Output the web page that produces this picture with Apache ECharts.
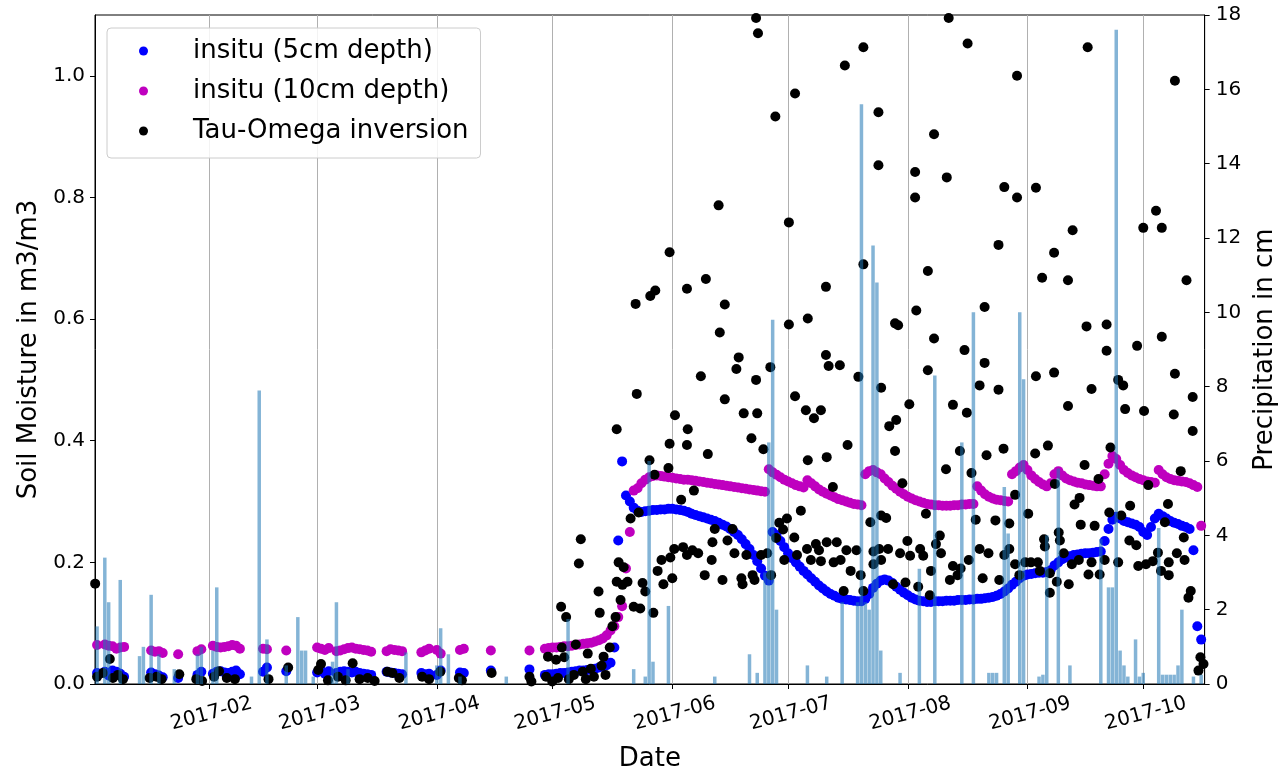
<!DOCTYPE html>
<html>
<head>
<meta charset="utf-8">
<title>Soil moisture and precipitation 2017</title>
<script src="https://cdn.jsdelivr.net/npm/echarts@6/dist/echarts.min.js"></script>
<style>
  html, body { margin: 0; padding: 0; background: #fff; }
  #chart { width: 1286px; height: 777px; }
</style>
</head>
<body>
<div id="chart"></div>
<script>
// day offsets are counted from 2017-01-01 00:00 UTC

// insitu probes, sparse days before the continuous record starts
var earlyDays = [2, 4, 5, 6, 7, 8, 9, 16, 17, 18, 19, 23, 28, 29, 32, 33, 34, 35, 36, 37, 38, 39,
  45, 46, 51, 59, 60, 61, 62, 64, 65, 66, 67, 68, 69, 70, 71, 72, 73, 77, 78, 79, 80, 81,
  86, 87, 88, 90, 91, 96, 97, 104, 114];
var earlySM5 = [0.018, 0.020, 0.014, 0.022, 0.020, 0.017, 0.012, 0.019, 0.016, 0.014, 0.011, 0.010,
  0.015, 0.020, 0.017, 0.020, 0.021, 0.019, 0.018, 0.020, 0.022, 0.016, 0.020, 0.027, 0.021,
  0.019, 0.022, 0.017, 0.021, 0.018, 0.020, 0.021, 0.020, 0.019, 0.020, 0.018, 0.017, 0.016, 0.015,
  0.020, 0.019, 0.018, 0.017, 0.016, 0.018, 0.016, 0.017, 0.015, 0.022, 0.019, 0.018, 0.022, 0.024];
var earlySM10 = [0.064, 0.065, 0.063, 0.062, 0.058, 0.060, 0.061, 0.055, 0.053, 0.054, 0.051, 0.049,
  0.054, 0.057, 0.063, 0.061, 0.060, 0.061, 0.062, 0.064, 0.063, 0.058, 0.058, 0.057, 0.055,
  0.060, 0.058, 0.056, 0.059, 0.054, 0.055, 0.057, 0.059, 0.060, 0.058, 0.057, 0.056, 0.055, 0.053,
  0.054, 0.057, 0.056, 0.055, 0.054, 0.052, 0.055, 0.058, 0.056, 0.050, 0.056, 0.058, 0.055, 0.055];

// continuous daily record, first value is day 118 (2017-04-29)
var dailyStart = 118;
var dailySM5 = [
  0.015, 0.016, 0.016, 0.017, 0.018, 0.018, 0.019, 0.020, 0.021, 0.022, 0.022, 0.023, 0.024, 0.025,
  0.027, 0.029, 0.031, 0.035, 0.060, 0.236, 0.366, 0.310, 0.300, 0.290, 0.285, 0.283, 0.284, 0.285,
  0.286, 0.286, 0.287, 0.287, 0.288, 0.288, 0.287, 0.286, 0.285, 0.283, 0.280, 0.278, 0.276, 0.274,
  0.272, 0.270, 0.268, 0.265, 0.262, 0.259, 0.255, 0.250, 0.245, 0.238, 0.230, 0.222, 0.212, 0.202,
  0.190, 0.178, 0.170, 0.250, 0.245, 0.235, 0.225, 0.215, 0.207, 0.200, 0.193, 0.186, 0.180, 0.174,
  0.168, 0.162, 0.157, 0.152, 0.148, 0.145, 0.142, 0.140, 0.139, 0.138, 0.137, 0.136, 0.136, 0.140,
  0.148, 0.158, 0.165, 0.170, 0.172, 0.170, 0.166, 0.160, 0.155, 0.150, 0.146, 0.142, 0.139, 0.137,
  0.136, 0.135, 0.135, 0.136, 0.136, 0.136, 0.137, 0.137, 0.137, 0.138, 0.138, 0.138, 0.139, 0.139,
  0.140, 0.140, 0.141, 0.142, 0.143, 0.145, 0.148, 0.152, 0.157, 0.163, 0.168, 0.174, 0.178, 0.180,
  0.181, 0.182, 0.183, 0.183, 0.184, 0.187, 0.195, 0.200, 0.205, 0.208, 0.210, 0.212, 0.213, 0.214,
  0.215, 0.215, 0.216, 0.217, 0.218, 0.235, 0.255, 0.270, 0.275, 0.272, 0.268, 0.266, 0.264, 0.262,
  0.258, 0.250, 0.245, 0.258, 0.272, 0.280, 0.276, 0.272, 0.268, 0.265, 0.263, 0.260, 0.258, 0.255,
  0.220, 0.095, 0.073, null];
var dailySM10 = [
  0.058, 0.059, 0.060, 0.060, 0.061, 0.062, 0.062, 0.063, 0.064, 0.065, 0.066, 0.067, 0.068, 0.070,
  0.072, 0.075, 0.080, 0.088, 0.095, 0.110, 0.128, 0.190, 0.250, 0.318, 0.322, 0.330, 0.336, 0.340,
  0.342, 0.343, 0.342, 0.341, 0.340, 0.339, 0.338, 0.337, 0.336, 0.336, 0.335, 0.334, 0.333, 0.332,
  0.331, 0.330, 0.329, 0.328, 0.327, 0.326, 0.325, 0.324, 0.323, 0.322, 0.321, 0.320, 0.319, 0.318,
  0.317, 0.316, 0.353, 0.348, 0.344, 0.340, 0.336, 0.333, 0.330, 0.327, 0.325, 0.323, 0.335, 0.330,
  0.325, 0.320, 0.316, 0.313, 0.310, 0.307, 0.304, 0.302, 0.300, 0.298, 0.296, 0.295, 0.294, 0.345,
  0.350, 0.352, 0.348, 0.345, 0.338, 0.332, 0.326, 0.321, 0.316, 0.312, 0.308, 0.305, 0.302, 0.300,
  0.298, 0.296, 0.295, 0.294, 0.294, 0.293, 0.293, 0.293, 0.294, 0.294, 0.295, 0.295, 0.296, 0.296,
  0.325, 0.318, 0.312, 0.308, 0.305, 0.303, 0.302, 0.301, 0.300, 0.345, 0.350, 0.356, 0.360, 0.352,
  0.343, 0.337, 0.332, 0.328, 0.325, 0.330, 0.345, 0.350, 0.343, 0.338, 0.335, 0.333, 0.331, 0.330,
  0.328, 0.327, 0.326, 0.325, 0.325, 0.345, 0.362, 0.375, 0.370, 0.360, 0.352, 0.347, 0.343, 0.340,
  0.337, 0.335, 0.333, 0.332, 0.331, 0.352, 0.345, 0.340, 0.337, 0.335, 0.334, 0.333, 0.332, 0.330,
  0.327, 0.324, 0.260, 0.230];

// Tau-Omega retrievals: [day offset, soil moisture]
var tauPoints = [
  [1.5, 0.165], [2.0, 0.012], [3.5, 0.018], [5.3, 0.041], [6.1, 0.010], [7.4, 0.015], [8.7, 0.008],
  [15.6, 0.010], [17.4, 0.012], [18.7, 0.008], [23.3, 0.016], [27.7, 0.008], [29.2, 0.005],
  [32.3, 0.012], [33.6, 0.021], [35.6, 0.010], [37.7, 0.008], [46.4, 0.008], [51.5, 0.027],
  [59.3, 0.023], [60.0, 0.033], [61.8, 0.006], [64.4, 0.012], [66.4, 0.006], [68.2, 0.034],
  [70.0, 0.008], [72.1, 0.010], [73.9, 0.005], [77.2, 0.020], [78.5, 0.018], [80.3, 0.010],
  [86.2, 0.012], [88.0, 0.008], [90.9, 0.020], [95.7, 0.010], [96.5, 0.006], [104.2, 0.018],
  [114.0, 0.012], [114.5, 0.004],
  [118.3, 0.012], [118.8, 0.045], [119.9, 0.004], [120.9, 0.040], [121.4, 0.010], [122.2, 0.127],
  [122.4, 0.060], [123.0, 0.044], [123.5, 0.110], [124.2, 0.008], [125.5, 0.015], [126.0, 0.065],
  [126.8, 0.198], [127.3, 0.238], [127.8, 0.020], [128.6, 0.008], [129.1, 0.050], [129.9, 0.025],
  [130.7, 0.012], [131.9, 0.152], [132.2, 0.117], [132.7, 0.030], [133.2, 0.045], [133.7, 0.015],
  [134.8, 0.060], [135.5, 0.095], [136.3, 0.110], [136.6, 0.168], [136.6, 0.419], [137.1, 0.200],
  [137.6, 0.138], [138.1, 0.163], [138.4, 0.192], [139.4, 0.168], [140.2, 0.272], [141.0, 0.127],
  [141.5, 0.625], [141.8, 0.477], [142.3, 0.282], [142.7, 0.124], [143.3, 0.166], [144.0, 0.152],
  [145.1, 0.368], [145.3, 0.638], [146.1, 0.117], [146.4, 0.344], [146.6, 0.647], [147.2, 0.186],
  [148.2, 0.204], [148.7, 0.164], [150.0, 0.355], [150.3, 0.710], [150.3, 0.395], [150.5, 0.208],
  [151.0, 0.174], [151.5, 0.222], [151.7, 0.442], [153.3, 0.303], [153.8, 0.225], [154.8, 0.650],
  [154.8, 0.393], [154.8, 0.212], [155.0, 0.419], [156.2, 0.220], [156.6, 0.318], [157.7, 0.215],
  [158.4, 0.506], [159.4, 0.179], [159.7, 0.666], [160.2, 0.378], [161.2, 0.204], [161.4, 0.233],
  [162.0, 0.255], [163.0, 0.787], [163.3, 0.578], [164.0, 0.171], [164.6, 0.624], [164.6, 0.468],
  [165.3, 0.236], [166.6, 0.255], [167.1, 0.215], [167.6, 0.518], [168.2, 0.537], [168.9, 0.174],
  [169.2, 0.164], [169.5, 0.445], [170.2, 0.212], [171.5, 0.404], [171.8, 0.179], [172.3, 0.171],
  [172.7, 1.095], [172.7, 0.500], [173.0, 0.445], [173.2, 1.070], [174.0, 0.212], [174.6, 0.386],
  [175.6, 0.215], [176.4, 0.521], [176.6, 0.179], [177.7, 0.933], [177.9, 0.240], [178.7, 0.265],
  [179.7, 0.254], [180.0, 0.204], [180.7, 0.272], [181.2, 0.759], [181.2, 0.591], [182.6, 0.241],
  [182.8, 0.971], [182.8, 0.473], [183.3, 0.212], [184.3, 0.285], [185.6, 0.450], [185.9, 0.222],
  [186.1, 0.601], [186.1, 0.368], [186.9, 0.204], [187.7, 0.437], [188.2, 0.230], [189.0, 0.220],
  [189.5, 0.450], [189.5, 0.202], [190.8, 0.653], [190.8, 0.541], [191.0, 0.373], [191.0, 0.233],
  [191.5, 0.523], [192.6, 0.324], [192.8, 0.200], [193.6, 0.233], [194.4, 0.524], [194.6, 0.204],
  [195.4, 0.153], [195.7, 1.017], [196.1, 0.220], [196.4, 0.393], [197.2, 0.186], [198.7, 0.220],
  [199.2, 0.505], [199.8, 0.179], [200.5, 1.047], [200.5, 0.690], [200.5, 0.153], [202.3, 0.266],
  [203.1, 0.218], [203.1, 0.197], [204.4, 0.940], [204.4, 0.853], [204.6, 0.222], [205.1, 0.487],
  [205.1, 0.277], [205.1, 0.204], [206.4, 0.273], [206.9, 0.222], [207.2, 0.424], [208.2, 0.164],
  [208.7, 0.593], [208.7, 0.383], [209.0, 0.434], [209.5, 0.590], [210.0, 0.215], [210.6, 0.330],
  [211.4, 0.167], [211.9, 0.235], [212.4, 0.460], [212.6, 0.211], [213.9, 0.842], [213.9, 0.800],
  [214.2, 0.614], [214.7, 0.160], [215.2, 0.222], [216.0, 0.211], [216.7, 0.280], [217.2, 0.679],
  [217.2, 0.516], [217.7, 0.146], [218.0, 0.186], [218.8, 0.904], [218.8, 0.568], [219.3, 0.230],
  [220.3, 0.244], [220.6, 0.215], [221.9, 0.353], [222.1, 0.833], [222.6, 1.095], [222.9, 0.171],
  [223.7, 0.459], [223.7, 0.194], [224.9, 0.179], [225.5, 0.383], [225.7, 0.190], [226.7, 0.549],
  [227.3, 0.446], [227.5, 1.053], [227.8, 0.204], [228.5, 0.347], [229.6, 0.270], [230.6, 0.491],
  [230.6, 0.222], [231.4, 0.174], [231.9, 0.620], [231.9, 0.528], [232.4, 0.376], [232.9, 0.215],
  [234.7, 0.269], [235.5, 0.722], [235.5, 0.484], [235.7, 0.171], [236.8, 0.387], [237.0, 0.817],
  [237.0, 0.212], [238.3, 0.264], [238.3, 0.222], [239.8, 0.311], [239.8, 0.197], [240.3, 1.000],
  [240.3, 0.800], [240.9, 0.179], [242.4, 0.200], [243.2, 0.280], [243.9, 0.200], [245.0, 0.379],
  [245.2, 0.816], [245.2, 0.506], [245.7, 0.200], [246.2, 0.186], [246.8, 0.668], [247.3, 0.238],
  [247.5, 0.226], [248.3, 0.392], [248.8, 0.182], [248.8, 0.150], [249.9, 0.709], [249.9, 0.512],
  [250.1, 0.329], [250.6, 0.168], [251.1, 0.249], [251.4, 0.236], [252.4, 0.215], [253.5, 0.664],
  [253.5, 0.457], [253.7, 0.164], [254.5, 0.197], [254.7, 0.746], [255.2, 0.295], [256.3, 0.204],
  [256.5, 0.306], [256.8, 0.262], [257.8, 0.360], [258.3, 0.588], [258.6, 1.047], [258.8, 0.180],
  [259.6, 0.485], [259.6, 0.200], [260.4, 0.260], [261.4, 0.337], [261.7, 0.180], [263.0, 0.204],
  [263.5, 0.591], [263.5, 0.548], [264.2, 0.282], [264.5, 0.389], [266.5, 0.500], [266.5, 0.200],
  [267.3, 0.277], [267.8, 0.491], [268.3, 0.452], [269.4, 0.236], [269.6, 0.293], [271.2, 0.228],
  [271.4, 0.556], [271.7, 0.194], [273.0, 0.750], [273.2, 0.449], [273.7, 0.197], [274.3, 0.327],
  [275.5, 0.202], [276.3, 0.778], [276.8, 0.216], [277.6, 0.186], [277.8, 0.750], [277.8, 0.571],
  [278.6, 0.266], [279.4, 0.296], [279.6, 0.200], [279.6, 0.179], [280.9, 0.443], [281.2, 0.992],
  [281.2, 0.510], [281.7, 0.215], [282.7, 0.350], [283.5, 0.241], [283.7, 0.204], [284.2, 0.664],
  [284.7, 0.142], [285.3, 0.153], [285.8, 0.472], [285.8, 0.416], [287.3, 0.022], [287.8, 0.044],
  [288.6, 0.033]
];

// daily precipitation in cm: [day offset, cm]
var rainDays = [2, 4, 5, 8, 13, 14, 16, 18, 22, 28, 29, 32, 33, 42, 44, 46, 51, 54, 55, 56, 58, 63, 64,
  67, 82, 90, 91, 93, 96, 108, 124, 141, 144, 145, 146, 150, 162, 171, 173, 175, 176, 177, 178,
  186, 191, 195, 199, 200, 201, 202, 203, 204, 205, 210, 215, 219, 226, 229, 233, 234, 235, 237,
  238, 241, 242, 246, 247, 248, 251, 254, 262, 264, 265, 266, 267, 268, 269, 271, 272, 273, 277,
  278, 279, 280, 281, 282, 283, 286, 288];
var rainCm = [1.55, 3.4, 2.2, 2.8, 0.75, 1.0, 2.4, 0.8, 0.4, 0.8, 1.0, 0.9, 2.6, 0.2, 7.9, 1.2, 0.5, 1.8,
  0.9, 0.9, 0.2, 0.6, 2.2, 0.4, 0.85, 0.5, 1.5, 0.8, 0.2, 0.2, 1.75, 0.4, 0.2, 6.0, 0.6, 2.1, 0.2,
  0.8, 0.3, 3.0, 6.5, 9.8, 2.0, 0.5, 0.2, 2.2, 2.2, 15.6, 2.2, 2.0, 11.8, 10.8, 0.9, 0.3, 3.1, 8.3,
  6.5, 10.0, 0.3, 0.3, 0.3, 5.3, 4.05, 10.0, 8.2, 0.2, 0.25, 4.0, 5.8, 0.5, 3.9, 2.6, 2.6, 17.6,
  0.9, 0.5, 0.2, 1.2, 0.2, 0.3, 4.2, 0.25, 0.25, 0.25, 0.25, 0.5, 2.0, 0.2, 0.25];

var smTicks = [0, 0.2, 0.4, 0.6, 0.8, 1.0];

(function () {
    var DAY = 86400000;
    var t0 = Date.UTC(2017, 0, 1);
    function dayToTime(d) { return t0 + d * DAY; }
    var tMin = dayToTime(1.46), tMax = dayToTime(288.9);

    // build [time, value] pairs for the insitu series
    function insitu(early, daily) {
        var out = [];
        for (var i = 0; i < earlyDays.length; i++) {
            out.push([dayToTime(earlyDays[i]), early[i]]);
        }
        for (var j = 0; j < daily.length; j++) {
            if (daily[j] !== null) out.push([dayToTime(dailyStart + j), daily[j]]);
        }
        return out;
    }

    var sm5 = insitu(earlySM5, dailySM5);
    var sm10 = insitu(earlySM10, dailySM10);
    var tau = tauPoints.map(function (p) { return [dayToTime(p[0]), p[1]]; });
    var rain = rainDays.map(function (d, i) { return [dayToTime(d), rainCm[i]]; });

    function pad(n) { return n < 10 ? '0' + n : '' + n; }

    var font = 'DejaVu Sans';
    var black = '#000000';

    var myChart = echarts.init(document.getElementById('chart'));
    var option = {
        animation: false,
        useUTC: true,
        backgroundColor: '#ffffff',
        textStyle: { fontFamily: font, color: black },
        grid: {
            left: 95, right: 72, top: 15, bottom: 87,
            show: true, borderColor: black, borderWidth: 1, backgroundColor: 'transparent'
        },
        legend: {
            left: 107, top: 28,
            orient: 'vertical',
            selectedMode: false,
            icon: 'circle',
            itemWidth: 9, itemHeight: 9,
            itemGap: 10,
            padding: [8, 12, 12, 32],
            backgroundColor: 'rgba(255,255,255,0.85)',
            borderColor: '#cccccc', borderWidth: 1, borderRadius: 4,
            textStyle: { fontFamily: font, fontSize: 26, color: black, lineHeight: 30, padding: [0, 0, 0, 40] },
            data: ['insitu (5cm depth)', 'insitu (10cm depth)', 'Tau-Omega inversion']
        },
        xAxis: [{
            type: 'time',
            min: tMin, max: tMax,
            minInterval: 28 * DAY, maxInterval: 31 * DAY,
            name: 'Date', nameLocation: 'middle', nameGap: 62,
            nameTextStyle: { fontFamily: font, fontSize: 26, color: black },
            axisLine: { lineStyle: { color: black, width: 1 } },
            axisTick: { length: 5, lineStyle: { color: black } },
            axisLabel: {
                rotate: 15, margin: 20, fontSize: 20, color: black, fontFamily: font,
                align: 'center', verticalAlign: 'top',
                hideOverlap: false,
                formatter: function (v) {
                    var d = new Date(v);
                    return d.getUTCFullYear() + '-' + pad(d.getUTCMonth() + 1);
                }
            },
            splitLine: { show: true, lineStyle: { color: '#b0b0b0', width: 1 } }
        }, {
            // hidden twin axis for the precipitation bars (same range, no drawing)
            type: 'value', min: tMin, max: tMax, show: false
        }],
        yAxis: [{
            type: 'value', min: 0, max: 1.1, interval: 0.2,
            name: 'Soil Moisture in m3/m3', nameLocation: 'middle', nameGap: 50, nameRotate: 90,
            nameTextStyle: { fontFamily: font, fontSize: 26, color: black },
            axisLine: { show: true, lineStyle: { color: black } },
            axisTick: { show: true, length: 5, lineStyle: { color: black }, customValues: smTicks },
            axisLabel: {
                customValues: smTicks, fontSize: 20, color: black, margin: 10,
                formatter: function (v) { return v.toFixed(1); }
            },
            splitLine: { show: false }
        }, {
            type: 'value', min: 0, max: 18, interval: 2, position: 'right',
            name: 'Precipitation in cm', nameLocation: 'middle', nameGap: 46, nameRotate: 90,
            nameTextStyle: { fontFamily: font, fontSize: 26, color: black },
            axisLine: { show: true, lineStyle: { color: black } },
            axisTick: { show: true, length: 5, lineStyle: { color: black } },
            axisLabel: { fontSize: 20, color: black, margin: 11 },
            splitLine: { show: false }
        }],
        series: [{
            name: 'insitu (5cm depth)', type: 'scatter', xAxisIndex: 0, yAxisIndex: 0,
            symbolSize: 10, itemStyle: { color: '#0000ff', opacity: 1 }, z: 2, data: sm5
        }, {
            name: 'insitu (10cm depth)', type: 'scatter', xAxisIndex: 0, yAxisIndex: 0,
            symbolSize: 10, itemStyle: { color: '#bf00bf', opacity: 1 }, z: 2, data: sm10
        }, {
            name: 'Tau-Omega inversion', type: 'scatter', xAxisIndex: 0, yAxisIndex: 0,
            symbolSize: 10, itemStyle: { color: '#000000', opacity: 1 }, z: 2, data: tau
        }, {
            name: 'Precipitation', type: 'bar', xAxisIndex: 1, yAxisIndex: 1,
            barWidth: 3.5, itemStyle: { color: 'rgba(31,119,180,0.55)' }, z: 3, data: rain
        }]
    };
    myChart.setOption(option);
    window.addEventListener('resize', function () {
        myChart.resize();
    });
})();
</script>
</body>
</html>
